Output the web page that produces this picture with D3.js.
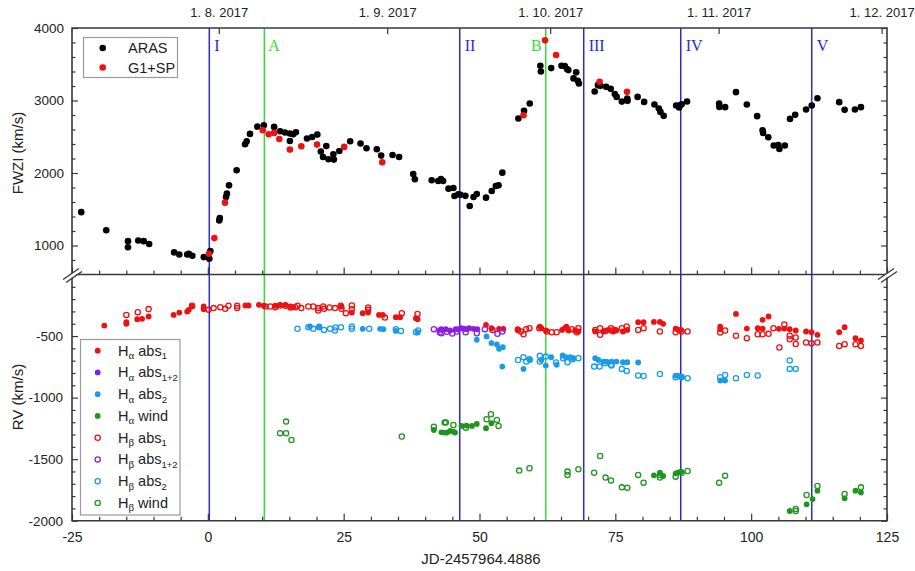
<!DOCTYPE html>
<html><head><meta charset="utf-8">
<script src="https://cdn.jsdelivr.net/npm/d3@7/dist/d3.min.js"></script>
<style>body{margin:0;background:#fff}svg{display:block}</style>
</head><body><svg id="c" width="915" height="571" font-family='"Liberation Sans",Arial,sans-serif'></svg>
<script>
// ---------- DATA ----------
const dateTicks = [2.01, 33.01, 63.01, 94.01, 124.01];
const dateLabels = ["1. 8. 2017", "1. 9. 2017", "1. 10. 2017", "1. 11. 2017", "1. 12. 2017"];
const xTicks = [-25, 0, 25, 50, 75, 100, 125];
const fwziTicks = [1000, 2000, 3000, 4000];
const rvTicks = [-2000, -1500, -1000, -500];
const vLinesBlue = [[0.27, "I"], [46.36, "II"], [69.18, "III"], [87.04, "IV"], [111.15, "V"]];
const vLinesGreen = [[10.4, "A"], [62.19, "B"]];

const aras = [[-23.3,1460],[-18.7,1210],[-14.7,1060],[-14.7,975],[-12.8,1070],[-11.8,1060],[-10.8,1020],[-6.2,905],[-5.25,875],[-3.8,875],[-3.5,885],[-2.85,858],[-0.75,840],[0.27,817],[0.46,922],[2.1,1346],[2.2,1378],[3.35,1668],[3.5,1715],[3.9,1830],[5.3,2037],[6.85,2397],[7.15,2438],[7.76,2539],[9.1,2640],[10.3,2658],[12.2,2636],[13.3,2576],[14.2,2558],[15.1,2545],[15.1,2442],[15.7,2535],[16.2,2562],[18.25,2475],[19.2,2497],[20.15,2530],[20.8,2296],[21.2,2221],[21.8,2373],[22.2,2189],[23.1,2258],[23.2,2185],[24.2,2304],[26.2,2438],[28.1,2406],[29.2,2341],[31.1,2327],[31.9,2240],[34.0,2249],[35.2,2221],[37.8,1986],[38.1,1913],[41.2,1899],[42.4,1890],[42.9,1917],[43.3,1890],[44.3,1784],[45.2,1793],[45.4,1682],[46.1,1706],[46.5,1700],[47.4,1685],[48.2,1544],[48.9,1668],[49.5,1710],[51.2,1660],[52.25,1751],[53.0,1820],[53.5,1830],[54.2,2005],[57.15,2752],[58.2,2857],[59.25,2959],[61.2,3479],[61.3,3401],[63.2,3447],[65.1,3479],[65.7,3475],[66.1,3433],[66.35,3419],[67.3,3305],[67.8,3388],[68.1,3271],[68.3,3235],[71.2,3125],[71.8,3212],[72.25,3202],[73.3,3188],[74.15,3161],[74.9,3088],[75.25,3050],[76.2,2985],[77.2,3028],[77.25,2995],[79.1,3050],[80.3,2981],[82.2,2945],[83.0,2890],[83.3,2843],[83.9,2788],[86.2,2931],[86.75,2904],[86.9,2935],[87.2,2949],[88.2,2987],[94.1,2959],[94.15,2912],[95.2,2908],[97.2,3115],[99.2,2945],[101.1,2784],[102.1,2590],[102.2,2553],[103.15,2493],[104.15,2379],[105.0,2387],[105.2,2332],[106.2,2379],[107.15,2746],[108.1,2802],[110.1,2876],[111.15,2931],[112.2,3032],[116.2,2977],[117.2,2871],[119.1,2876],[120.2,2908]];
const g1sp = [[0.2,886],[1.2,1102],[3.16,1591],[10.1,2590],[11.2,2535],[12.2,2553],[13.15,2470],[15.1,2323],[17.2,2369],[20.1,2392],[25.1,2360],[32.1,2148],[58.1,2797],[62.06,3830],[64.1,3627],[72.1,3258],[77.15,3119]];

const haAbs1 = [[-19.05,-415],[-15.0,-387],[-15.0,-401],[-13.0,-363],[-12.1,-360],[-10.9,-341],[-6.3,-328],[-5.25,-309],[-3.8,-301],[-3.5,-287],[-2.9,-260],[-0.77,-260],[-0.77,-282],[6.9,-252],[7.5,-252],[9.4,-246],[10.3,-254],[12.4,-254],[13.3,-246],[14.3,-246],[15.2,-260],[15.7,-266],[24.6,-260],[26.5,-309],[28.5,-314],[29.5,-309],[31.5,-328],[32.2,-328],[34.6,-347],[35.4,-347],[38.3,-355],[38.6,-363],[51.2,-409],[52.2,-436],[53.6,-441],[54.4,-441],[57.0,-444],[61.1,-423],[61.4,-436],[62.2,-455],[65.2,-450],[65.7,-436],[66.0,-423],[66.4,-455],[67.6,-455],[68.2,-463],[71.3,-463],[72.8,-463],[73.7,-450],[74.6,-463],[75.2,-455],[76.4,-463],[77.2,-450],[79.2,-387],[80.2,-387],[82.1,-385],[83.2,-385],[83.8,-401],[86.1,-439],[86.6,-450],[87.1,-450],[94.3,-423],[94.3,-444],[97.2,-320],[99.2,-439],[101.2,-436],[102.1,-439],[102.1,-368],[103.2,-341],[105.1,-441],[106.1,-439],[107.1,-444],[108.2,-455],[110.1,-463],[111.1,-469],[112.2,-490],[116.2,-469],[117.2,-428],[119.2,-517],[120.2,-536]];
const hbAbs1 = [[-15.0,-328],[-12.9,-306],[-10.9,-281],[-2.9,-254],[0.15,-287],[1.07,-273],[2.3,-266],[3.2,-279],[3.8,-254],[5.4,-273],[5.4,-254],[10.6,-260],[11.5,-260],[12.4,-266],[13.3,-252],[14.3,-254],[15.2,-268],[16.1,-266],[16.5,-254],[17.2,-273],[18.5,-260],[19.4,-260],[20.3,-273],[20.3,-292],[21.25,-260],[21.4,-279],[22.4,-268],[23.4,-273],[24.45,-254],[24.6,-279],[25.4,-314],[26.5,-252],[26.5,-282],[29.5,-268],[29.5,-287],[32.6,-350],[35.7,-314],[38.6,-320],[52.4,-450],[57.1,-450],[57.6,-463],[58.1,-485],[58.6,-444],[59.2,-436],[61.0,-436],[62.4,-463],[63.3,-469],[64.2,-469],[67.0,-444],[67.9,-469],[68.2,-436],[71.3,-450],[72.2,-436],[72.2,-490],[73.2,-458],[74.2,-436],[74.3,-455],[74.9,-450],[76.2,-436],[77.1,-423],[79.2,-450],[80.2,-436],[83.2,-463],[86.1,-469],[87.2,-463],[88.3,-463],[94.3,-471],[95.2,-455],[97.2,-498],[99.2,-517],[101.2,-485],[102.1,-485],[103.2,-482],[104.1,-436],[105.2,-593],[106.1,-406],[107.1,-498],[107.1,-526],[108.2,-512],[108.2,-564],[110.1,-552],[111.1,-558],[112.2,-552],[116.2,-580],[117.2,-566],[119.2,-566],[120.2,-580]];
const haAbs12 = [[42.7,-450],[43.0,-444],[43.8,-444],[44.6,-455],[45.6,-444],[46.1,-444],[46.7,-436],[47.2,-441],[47.6,-444],[48.1,-436],[48.9,-441],[49.6,-444]];
const hbAbs12 = [[41.6,-444],[42.7,-471],[43.0,-477],[44.0,-465],[45.0,-480],[45.8,-463],[47.45,-469],[49.5,-477],[51.0,-444],[53.3,-482],[54.2,-463]];
const haAbs2 = [[18.8,-422],[20.5,-422],[28.5,-441],[31.7,-441],[32.3,-444],[34.6,-458],[38.6,-471],[49.5,-530],[51.3,-503],[52.2,-557],[53.2,-568],[53.6,-603],[54.3,-590],[54.2,-748],[58.1,-767],[59.3,-694],[61.4,-694],[62.2,-740],[63.2,-672],[64.2,-734],[65.3,-658],[65.9,-672],[66.7,-672],[67.3,-680],[71.3,-680],[71.9,-694],[72.8,-707],[73.4,-707],[74.3,-707],[75.2,-707],[76.4,-713],[77.2,-713],[79.2,-715],[86.1,-821],[86.6,-824],[87.2,-829],[94.3,-862],[95.2,-862]];
const hbAbs2 = [[16.5,-441],[18.5,-428],[19.4,-441],[20.5,-428],[21.4,-450],[22.5,-441],[23.4,-455],[23.5,-430],[24.5,-428],[26.5,-423],[26.5,-441],[29.7,-441],[34.6,-444],[35.55,-458],[38.3,-469],[38.7,-455],[57.1,-694],[58.1,-672],[58.6,-707],[59.2,-688],[61.1,-661],[61.1,-707],[62.2,-667],[64.1,-715],[65.4,-680],[66.2,-713],[67.1,-688],[68.2,-680],[71.1,-748],[72.1,-748],[73.1,-721],[74.2,-734],[74.3,-740],[76.2,-767],[77.1,-783],[79.2,-821],[80.2,-824],[83.2,-808],[86.1,-835],[87.2,-835],[88.3,-843],[94.3,-835],[95.2,-816],[97.2,-843],[99.2,-816],[101.2,-821],[107.1,-699],[107.1,-767],[108.2,-767]];
const haWind = [[41.6,-1263],[43.0,-1282],[43.6,-1284],[44.0,-1284],[44.6,-1271],[45.2,-1276],[45.5,-1284],[46.7,-1230],[47.6,-1227],[48.6,-1230],[49.5,-1214],[51.2,-1249],[52.2,-1208],[82.1,-1631],[83.2,-1610],[83.8,-1637],[86.1,-1615],[86.6,-1607],[87.1,-1601],[107.1,-1921],[110.2,-1867],[111.3,-1824],[112.2,-1756],[117.2,-1818],[119.2,-1756],[120.2,-1770]];
const hbWind = [[13.3,-1290],[14.4,-1290],[14.4,-1195],[15.4,-1344],[35.7,-1316],[41.6,-1236],[43.6,-1203],[43.8,-1203],[45.2,-1222],[47.5,-1244],[51.3,-1176],[52.1,-1135],[53.2,-1181],[53.5,-1230],[57.3,-1593],[59.2,-1574],[66.2,-1601],[66.2,-1628],[68.2,-1582],[71.1,-1610],[72.2,-1474],[73.2,-1650],[74.2,-1674],[76.2,-1729],[77.2,-1732],[79.2,-1628],[80.2,-1691],[83.2,-1650],[83.2,-1628],[86.1,-1642],[87.2,-1610],[88.3,-1596],[94.1,-1691],[95.2,-1634],[108.2,-1905],[108.2,-1921],[110.2,-1791],[112.2,-1718],[117.2,-1783],[120.2,-1729]];

const topLegend = [["ARAS", "#000000"], ["G1+SP", "#ee1111"]];
// [letter, letter subscript, label, label subscript, filled, color]
const botLegend = [
  ["H","α","abs","1",true,"#ee1111"],
  ["H","α","abs","1+2",true,"#8a1fe0"],
  ["H","α","abs","2",true,"#1a9be8"],
  ["H","α","wind","",true,"#1e961e"],
  ["H","β","abs","1",false,"#ee1111"],
  ["H","β","abs","1+2",false,"#8a1fe0"],
  ["H","β","abs","2",false,"#1a9be8"],
  ["H","β","wind","",false,"#1e961e"]
];
const botSeries = [[haAbs1,0],[hbAbs1,4],[haAbs2,2],[hbAbs2,6],[haAbs12,1],[hbAbs12,5],[haWind,3],[hbWind,7]];

// ---------- LAYOUT ----------
const svg = d3.select("#c");
const L = 72, R = 887, T = 28, M = 274.5, B = 520.7;
const AX = "#383838", TXT = "#222";
const SERIF = '"Liberation Serif","Times New Roman",serif';
const x = d3.scaleLinear().domain([-25, 125]).range([L, R]);
const yTop = d3.scaleLinear().domain([600, 4000]).range([M, T]);
const yBot = d3.scaleLinear().domain([-2000, 0]).range([B, M]);
const plain = d => String(d);
const none = () => "";

function axis(gen, tx, ty, fs) {
  const g = svg.append("g").attr("transform", `translate(${tx},${ty})`).call(gen);
  g.attr("font-family", null);
  g.select(".domain").remove();
  g.selectAll("line").attr("stroke", AX).attr("stroke-width", 1.2);
  g.selectAll("text").attr("font-size", fs || 13.5).attr("fill", TXT);
  return g;
}

// vertical lines
vLinesBlue.forEach(([v, lab]) => {
  svg.append("line").attr("x1", x(v)).attr("x2", x(v)).attr("y1", T).attr("y2", B).attr("stroke", "#2b2bd6").attr("stroke-width", 1.5);
  svg.append("text").attr("x", x(v) + 5).attr("y", 51).attr("fill", "#2b2bd6").attr("font-family", SERIF).attr("font-size", 16).text(lab);
});
vLinesGreen.forEach(([v, lab], i) => {
  svg.append("line").attr("x1", x(v)).attr("x2", x(v)).attr("y1", T).attr("y2", B).attr("stroke", "#33dd33").attr("stroke-width", 1.5);
  svg.append("text").attr("x", i === 0 ? x(v) + 4 : x(v) - 4).attr("text-anchor", i === 0 ? "start" : "end").attr("y", 51).attr("fill", "#33dd33").attr("font-family", SERIF).attr("font-size", 16).text(lab);
});

// ---------- AXES ----------
const fwziMinor = d3.range(600, 4001, 200).filter(d => d % 1000 !== 0);
const rvMinor = d3.range(-1900, 0, 100).filter(d => d % 500 !== 0);
const xMinor = d3.range(-20, 125, 5).filter(d => d % 25 !== 0);
const xMajorAll = d3.range(-25, 126, 25);

axis(d3.axisLeft(yTop).tickValues(fwziTicks).tickFormat(plain).tickSizeInner(-6).tickSizeOuter(0).tickPadding(8), L, 0);
axis(d3.axisLeft(yTop).tickValues(fwziMinor).tickSizeInner(-3.5).tickSizeOuter(0).tickFormat(none), L, 0);
axis(d3.axisRight(yTop).tickValues(fwziTicks).tickSizeInner(-6).tickSizeOuter(0).tickFormat(none), R, 0);
axis(d3.axisRight(yTop).tickValues(fwziMinor).tickSizeInner(-3.5).tickSizeOuter(0).tickFormat(none), R, 0);
axis(d3.axisTop(x).tickValues(dateTicks).tickFormat((d, i) => dateLabels[i]).tickSizeInner(-6).tickSizeOuter(0).tickPadding(11), 0, T, 13);
axis(d3.axisBottom(x).tickValues(xMajorAll).tickSizeInner(-7).tickSizeOuter(0).tickFormat(none), 0, M);
axis(d3.axisBottom(x).tickValues(xMinor).tickSizeInner(-4).tickSizeOuter(0).tickFormat(none), 0, M);
axis(d3.axisLeft(yBot).tickValues(rvTicks).tickFormat(plain).tickSizeInner(-6).tickSizeOuter(0).tickPadding(9), L, 0);
axis(d3.axisLeft(yBot).tickValues(rvMinor).tickSizeInner(-3.5).tickSizeOuter(0).tickFormat(none), L, 0);
axis(d3.axisRight(yBot).tickValues(rvTicks).tickSizeInner(-6).tickSizeOuter(0).tickFormat(none), R, 0);
axis(d3.axisRight(yBot).tickValues(rvMinor).tickSizeInner(-3.5).tickSizeOuter(0).tickFormat(none), R, 0);
axis(d3.axisBottom(x).tickValues(xTicks).tickFormat(plain).tickSizeInner(-7).tickSizeOuter(0).tickPadding(11), 0, B, 14);
axis(d3.axisBottom(x).tickValues(xMinor).tickSizeInner(-4).tickSizeOuter(0).tickFormat(none), 0, B);

// frame
svg.append("path").attr("d", `M${L},${T}H${R}V${B}H${L}Z M${L},${M}H${R}`)
  .attr("stroke", AX).attr("stroke-width", 1.6).attr("fill", "none");

// break marks
[L, R].forEach(sx => {
  svg.append("path").attr("d", `M${sx-9},${M+5} L${sx+7},${M-6} L${sx+10},${M-4} L${sx-6},${M+7} Z`).attr("fill", "#fff");
  svg.append("path").attr("d", `M${sx-9},${M+5} L${sx+7},${M-6} M${sx-6},${M+8} L${sx+10},${M-3}`).attr("stroke", AX).attr("stroke-width", 1.3).attr("fill", "none");
});

// ---------- MARKS ----------
svg.append("g").selectAll("circle").data(aras).join("circle")
  .attr("cx", d => x(d[0])).attr("cy", d => yTop(d[1])).attr("r", 3.3).attr("fill", "#000");
svg.append("g").selectAll("circle").data(g1sp).join("circle")
  .attr("cx", d => x(d[0])).attr("cy", d => yTop(d[1])).attr("r", 3.3).attr("fill", "#ee1111");

botSeries.forEach(([data, li]) => {
  const e = botLegend[li];
  svg.append("g").selectAll("circle").data(data).join("circle")
    .attr("cx", d => x(d[0])).attr("cy", d => yBot(d[1]))
    .attr("r", e[4] ? 2.9 : 2.6)
    .attr("fill", e[4] ? e[5] : "none")
    .attr("stroke", e[4] ? "none" : e[5]).attr("stroke-width", 1.3);
});

// ---------- LEGENDS ----------
svg.append("rect").attr("x", 83.5).attr("y", 37.5).attr("width", 94).attr("height", 40).attr("fill", "#fff").attr("stroke", "#9a9a9a").attr("stroke-width", 1.2);
topLegend.forEach(([lab, col], i) => {
  const cy = 48 + i * 19.5;
  svg.append("circle").attr("cx", 102.7).attr("cy", cy).attr("r", 3.3).attr("fill", col);
  svg.append("text").attr("x", 128).attr("y", cy + 5).attr("font-size", 14.5).attr("fill", TXT).text(lab);
});

svg.append("rect").attr("x", 80.5).attr("y", 339.5).attr("width", 99.5).attr("height", 175.5).attr("fill", "#fff").attr("stroke", "#9a9a9a").attr("stroke-width", 1.2);
botLegend.forEach((e, i) => {
  const cy = 350.7 + i * 21.75;
  svg.append("circle").attr("cx", 97.7).attr("cy", cy)
    .attr("r", e[4] ? 2.9 : 2.6).attr("fill", e[4] ? e[5] : "none")
    .attr("stroke", e[4] ? "none" : e[5]).attr("stroke-width", 1.3);
  const t = svg.append("text").attr("x", 118).attr("y", cy + 5).attr("font-size", 14.5).attr("fill", TXT);
  t.append("tspan").text(e[0]);
  t.append("tspan").attr("font-size", 11).attr("dy", 3.5).attr("font-family", SERIF).text(e[1]);
  t.append("tspan").attr("dy", -3.5).text(" " + e[2]);
  if (e[3]) t.append("tspan").attr("font-size", 9.5).attr("dy", 3.5).text(e[3]);
});

// ---------- TITLES ----------
svg.append("text").attr("transform", "translate(23,153) rotate(-90)").attr("text-anchor", "middle").attr("font-size", 15).attr("fill", TXT).text("FWZI (km/s)");
svg.append("text").attr("transform", "translate(23,397) rotate(-90)").attr("text-anchor", "middle").attr("font-size", 15).attr("fill", TXT).text("RV (km/s)");
svg.append("text").attr("x", 481).attr("y", 564).attr("text-anchor", "middle").attr("font-size", 15).attr("fill", TXT).text("JD-2457964.4886");
</script></body></html>
